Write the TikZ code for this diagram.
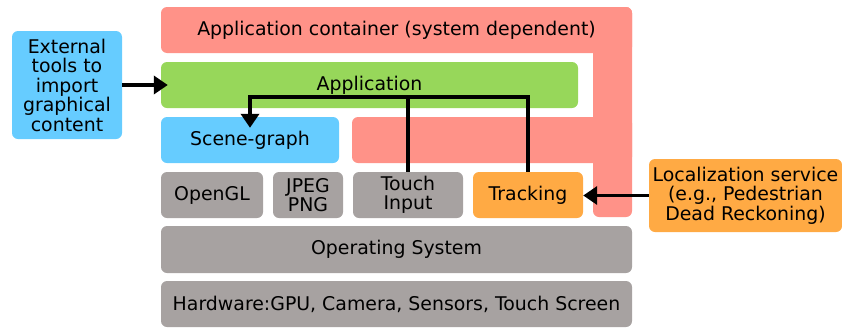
\documentclass[tikz,border=0pt]{standalone}
\usepackage{fontspec}
\setmainfont{DejaVu Sans}
\usetikzlibrary{
  arrows.meta, % Triangle 箭头
  calc         % 坐标计算
}

\definecolor{containerred}{HTML}{FF9288}
\definecolor{appgreen}{HTML}{97D75A}
\definecolor{sceneblue}{HTML}{66CCFF}
\definecolor{libgrey}{HTML}{A7A2A1}
\definecolor{trackorange}{HTML}{FFAA44}

\tikzset{
  layer/.style={rounded corners=6pt, inner sep=0pt, align=center,
    font=\fontsize{18.9}{19.5}\selectfont},
  flow/.style={line width=3.5pt, black},
  flowarrow/.style={flow, -{Triangle[length=14pt, width=18pt]}},
}

\begin{document}
\begin{tikzpicture}[x=1pt, y=-1pt] % 以像素为单位，y 轴向下
  \useasboundingbox (0,0) rectangle (842,327);

  % =============== 应用容器 (红色 E 形) ===============
  \fill[containerred, rounded corners=6pt] (593,7) rectangle (632,217);
  \fill[containerred, rounded corners=6pt] (352,117) rectangle (632,163);
  \node[layer, fill=containerred, minimum width=471pt, minimum height=46pt] (container) at (396.5,30) {Application container (system dependent)};

  % =============== 应用层 ===============
  \node[layer, fill=appgreen, minimum width=417pt, minimum height=46pt] (app) at (369.5,85) {Application};
  \node[layer, fill=sceneblue, minimum width=178pt, minimum height=46pt] (scene) at (250,140) {Scene-graph};

  % =============== 库与模块 ===============
  \node[layer, fill=libgrey, minimum width=102pt, minimum height=46pt] (opengl) at (212,195) {OpenGL};
  \node[layer, fill=libgrey, minimum width=70pt, minimum height=46pt] (jpeg) at (308,195) {JPEG\\PNG};
  \node[layer, fill=libgrey, minimum width=110pt, minimum height=46pt] (touch) at (408,195) {Touch\\Input};
  \node[layer, fill=trackorange, minimum width=110pt, minimum height=46pt] (track) at (528,195) {Tracking};

  % =============== 系统与硬件 ===============
  \node[layer, fill=libgrey, minimum width=471pt, minimum height=47pt] (os) at (396.5,249.5) {Operating System};
  \node[layer, fill=libgrey, minimum width=471pt, minimum height=46pt] (hw) at (396.5,304) {Hardware:GPU, Camera, Sensors, Touch Screen};

  % =============== 外部输入 ===============
  \node[layer, fill=sceneblue, minimum width=110pt, minimum height=108pt] (ext) at (67,85) {External\\tools to\\import\\graphical\\content};
  \node[layer, fill=trackorange, minimum width=193pt, minimum height=73pt] (loc) at (745.5,195.5) {Localization service\\(e.g., Pedestrian\\Dead Reckoning)};

  % =============== 连接线 ===============
  \coordinate (bend) at (250,97);
  \draw[flowarrow] (ext.east) -- ([xshift=7pt]app.west);
  \draw[flowarrow] (loc.west) -- (track.east |- loc.west);
  \draw[flowarrow] (touch.north) |- (bend) -- ([yshift=-11pt]scene.north);
  \draw[flow] (track.north) |- (touch.north |- bend);

\end{tikzpicture}
\end{document}
